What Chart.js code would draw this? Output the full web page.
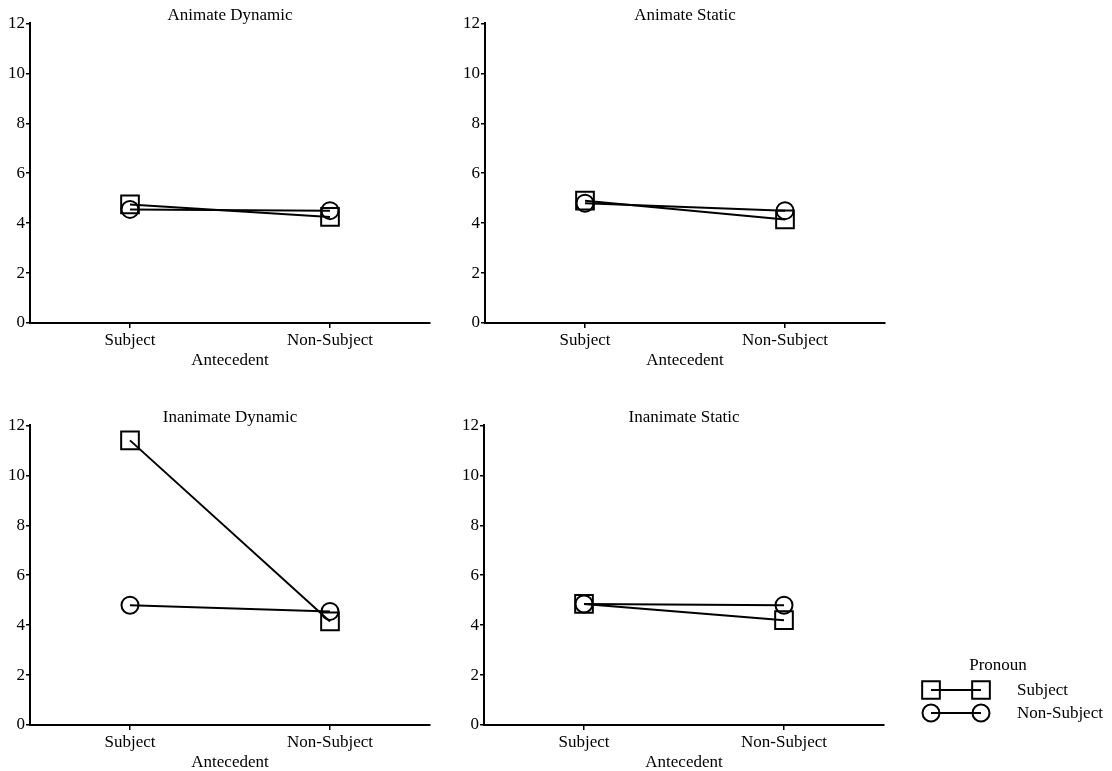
<!DOCTYPE html>
<html>
<head>
<meta charset="utf-8">
<title>Pronoun by Antecedent</title>
<script src="https://cdn.jsdelivr.net/npm/chart.js"></script>
<style>
  html, body { margin: 0; padding: 0; background: #fff; }
  body { width: 1112px; height: 771px; position: relative; overflow: hidden; }
  canvas { position: absolute; }
</style>
</head>
<body>
<canvas id="p0" width="440" height="371" style="left:0px;top:0px"></canvas>
<canvas id="p1" width="440" height="371" style="left:455px;top:0px"></canvas>
<canvas id="p2" width="440" height="371" style="left:0px;top:402px"></canvas>
<canvas id="p3" width="658" height="371" style="left:454px;top:402px"></canvas>
<script>
// Categories on the x axis (antecedent type)
const antecedents = ['Subject', 'Non-Subject'];
// Panel titles, in reading order
const panelTitles = ['Animate Dynamic', 'Animate Static', 'Inanimate Dynamic', 'Inanimate Static'];
// Y axis range and tick step
const yMin = 0, yMax = 12, yStep = 2;
// Series names (pronoun type)
const seriesNames = ['Subject', 'Non-Subject'];
const legendTitle = 'Pronoun';
const xAxisTitle = 'Antecedent';

// Mean values per panel: Subject pronoun
const subjAnimateDynamic = [4.75, 4.25];
const subjAnimateStatic = [4.9, 4.15];
const subjInanimateDynamic = [11.4, 4.15];
const subjInanimateStatic = [4.85, 4.2];

// Mean values per panel: Non-Subject pronoun
const nonSubjAnimateDynamic = [4.55, 4.5];
const nonSubjAnimateStatic = [4.8, 4.5];
const nonSubjInanimateDynamic = [4.8, 4.55];
const nonSubjInanimateStatic = [4.85, 4.8];

const subjectSeries = [subjAnimateDynamic, subjAnimateStatic, subjInanimateDynamic, subjInanimateStatic];
const nonSubjectSeries = [nonSubjAnimateDynamic, nonSubjAnimateStatic, nonSubjInanimateDynamic, nonSubjInanimateStatic];

const FONT = '"Liberation Serif", "Times New Roman", serif';
const FONT_SIZE = 17;
const INK = '#000';

// Legend drawn in the free space to the right of the last panel
const pronounLegend = {
  id: 'pronounLegend',
  afterDraw(chart, args, opts) {
    if (!opts || !opts.display) return;
    const ctx = chart.ctx;
    ctx.save();
    ctx.fillStyle = INK;
    ctx.font = FONT_SIZE + 'px ' + FONT;
    ctx.textBaseline = 'middle';
    ctx.textAlign = 'center';
    ctx.fillText(opts.title, opts.titleX, opts.titleY);
    chart.data.datasets.forEach((ds, i) => {
      const y = opts.rowY + i * opts.rowGap;
      ctx.strokeStyle = ds.borderColor;
      ctx.lineWidth = ds.borderWidth;
      ctx.beginPath();
      ctx.moveTo(opts.x1, y);
      ctx.lineTo(opts.x2, y);
      ctx.stroke();
      [opts.x1, opts.x2].forEach(x => {
        ctx.fillStyle = 'rgba(0,0,0,0)';
        ctx.strokeStyle = ds.pointBorderColor;
        ctx.lineWidth = ds.pointBorderWidth;
        const style = { pointStyle: ds.pointStyle, radius: ds.pointRadius, borderWidth: ds.pointBorderWidth, rotation: 0 };
        if (Chart.helpers && Chart.helpers.drawPoint) {
          Chart.helpers.drawPoint(ctx, style, x, y);
        } else {
          ctx.beginPath();
          if (ds.pointStyle === 'rect') {
            const s = Math.SQRT1_2 * ds.pointRadius;
            ctx.rect(x - s, y - s, 2 * s, 2 * s);
          } else {
            ctx.arc(x, y, ds.pointRadius, 0, Math.PI * 2);
          }
          ctx.stroke();
        }
      });
      ctx.fillStyle = INK;
      ctx.textAlign = 'left';
      ctx.fillText(ds.label, opts.textX, y + 1);
    });
    ctx.restore();
  }
};

function makePanel(canvasId, idx, padRight, withLegend) {
  const datasets = [
    {
      label: seriesNames[0],
      data: subjectSeries[idx],
      borderColor: INK,
      borderWidth: 2,
      pointStyle: 'rect',
      pointRadius: 12.5,
      pointBorderWidth: 2,
      pointBorderColor: INK,
      pointBackgroundColor: 'rgba(0,0,0,0)',
      tension: 0,
      clip: false
    },
    {
      label: seriesNames[1],
      data: nonSubjectSeries[idx],
      borderColor: INK,
      borderWidth: 2,
      pointStyle: 'circle',
      pointRadius: 8.5,
      pointBorderWidth: 2,
      pointBorderColor: INK,
      pointBackgroundColor: 'rgba(0,0,0,0)',
      tension: 0,
      clip: false
    }
  ];
  return new Chart(document.getElementById(canvasId), {
    type: 'line',
    data: { labels: antecedents, datasets },
    plugins: [pronounLegend],
    options: {
      responsive: false,
      animation: false,
      devicePixelRatio: 1,
      events: [],
      layout: { autoPadding: false, padding: { left: 0, right: padRight, top: 0, bottom: 0 } },
      plugins: {
        legend: { display: false },
        tooltip: { enabled: false },
        title: {
          display: true,
          text: panelTitles[idx],
          fullSize: false,
          color: INK,
          font: { family: FONT, size: FONT_SIZE, weight: 'normal' },
          padding: { top: 5, bottom: -2 }
        },
        pronounLegend: withLegend ? {
          display: true,
          title: legendTitle,
          titleX: 544, titleY: 264,
          rowY: 288, rowGap: 23,
          x1: 477, x2: 527,
          textX: 563
        } : { display: false }
      },
      scales: {
        x: {
          type: 'category',
          offset: true,
          grid: { display: true, drawOnChartArea: false, drawTicks: true, tickLength: 5, offset: false, color: INK, lineWidth: 1.5 },
          border: { display: true, color: INK, width: 2 },
          ticks: { color: INK, padding: 2, font: { family: FONT, size: FONT_SIZE }, maxRotation: 0, autoSkip: false },
          title: { display: true, text: xAxisTitle, color: INK, font: { family: FONT, size: FONT_SIZE }, padding: { top: 1, bottom: 0 } },
          afterFit(scale) {
            scale.height = 48;
            scale.paddingLeft = 0;
            scale.paddingRight = 0;
          }
        },
        y: {
          min: yMin,
          max: yMax,
          grid: { display: true, drawOnChartArea: false, drawTicks: true, tickLength: 4, color: INK, lineWidth: 1.5 },
          border: { display: true, color: INK, width: 2 },
          ticks: { stepSize: yStep, color: INK, padding: 1, font: { family: FONT, size: FONT_SIZE } },
          afterFit(scale) { scale.width = 30; }
        }
      }
    }
  });
}

makePanel('p0', 0, 10, false);
makePanel('p1', 1, 10, false);
makePanel('p2', 2, 10, false);
makePanel('p3', 3, 228, true);
</script>
</body>
</html>
